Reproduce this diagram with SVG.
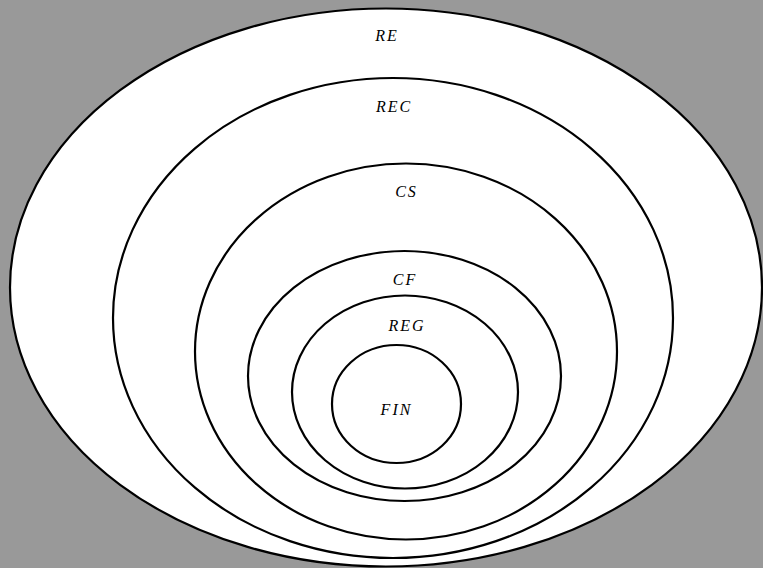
<svg xmlns="http://www.w3.org/2000/svg" width="763" height="568" viewBox="0 0 763 568">
<style>
.e{fill:#fff;stroke:#000;stroke-width:2.2}
.t{font-family:"Liberation Serif","DejaVu Serif",serif;font-style:italic;font-size:16px;letter-spacing:2px;text-anchor:middle;fill:#000}
</style>
<rect width="763" height="568" fill="#999999"/>
<g id="RE"><ellipse class="e" cx="386" cy="287.5" rx="376" ry="279"/><text class="t" x="387" y="41">RE</text></g>
<g id="REC"><ellipse class="e" cx="393" cy="318" rx="280" ry="240"/><text class="t" x="394" y="112">REC</text></g>
<g id="CS"><ellipse class="e" cx="406" cy="351.5" rx="211" ry="188"/><text class="t" x="406.5" y="197">CS</text></g>
<g id="CF"><ellipse class="e" cx="404.5" cy="376" rx="156.5" ry="125"/><text class="t" x="405" y="285">CF</text></g>
<g id="REG"><ellipse class="e" cx="405" cy="392" rx="113" ry="96.5"/><text class="t" x="407" y="330.5">REG</text></g>
<g id="FIN"><ellipse class="e" cx="396.5" cy="404" rx="64.5" ry="59"/><text class="t" x="396.5" y="415">FIN</text></g>
<g id="connectors"/>
</svg>
